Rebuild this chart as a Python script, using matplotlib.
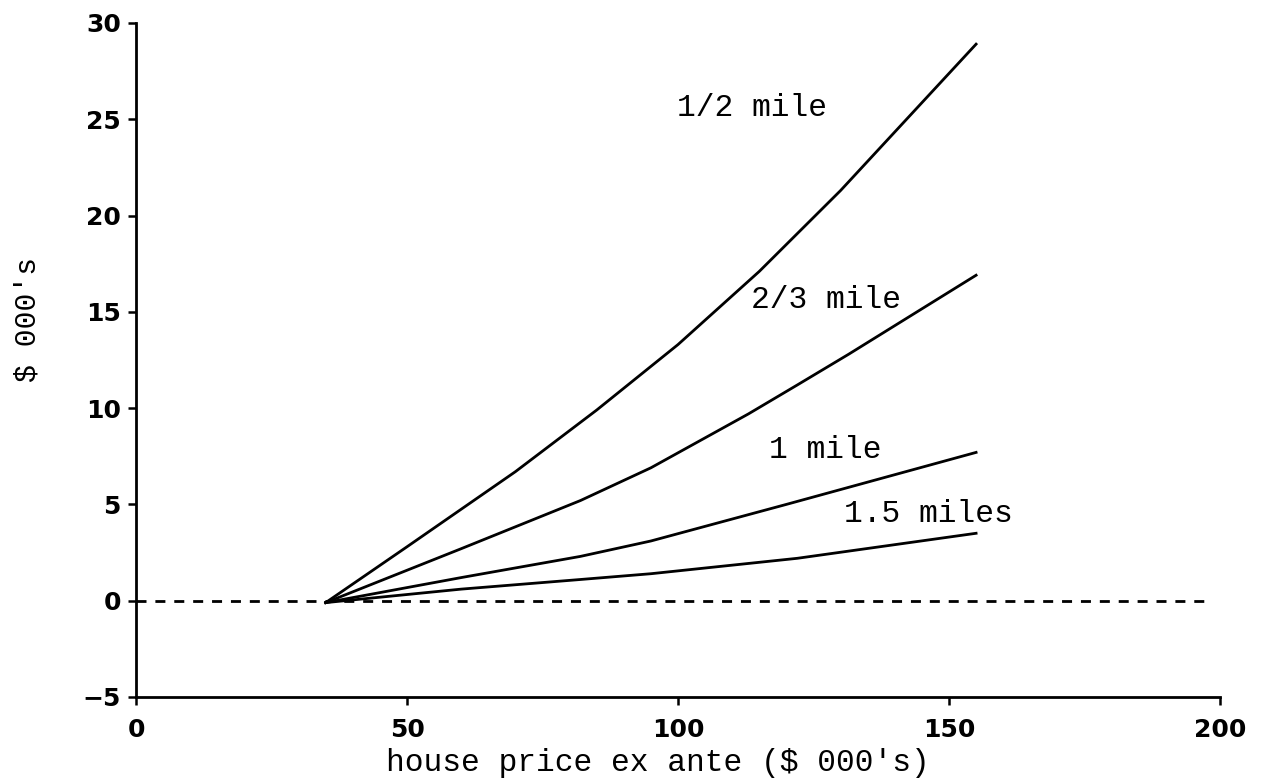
import numpy as np
import matplotlib
matplotlib.use("Agg")
import matplotlib.pyplot as plt

# values ($ 000's)
x_half = [35, 50, 70, 85, 100, 115, 130, 155]
y_half = [-0.1, 2.8, 6.7, 9.9, 13.3, 17.1, 21.3, 28.9]

x_twothird = [35, 60, 82, 95, 113, 122, 131.5, 155]
y_twothird = [-0.1, 2.7, 5.2, 6.9, 9.7, 11.2, 12.8, 16.9]

x_one = [35, 60, 82, 95, 120, 155]
y_one = [-0.1, 1.2, 2.3, 3.1, 5.0, 7.7]

x_onehalf = [35, 60, 82, 95, 122, 155]
y_onehalf = [-0.1, 0.6, 1.1, 1.4, 2.2, 3.5]

labels = ["1/2 mile", "2/3 mile", "1 mile", "1.5 miles"]
label_x = [99.8, 113.4, 116.8, 130.6]
label_y = [25.6, 15.6, 7.8, 4.5]

xticks = [0, 50, 100, 150, 200]
yticks = [-5, 0, 5, 10, 15, 20, 25, 30]

mono = "Liberation Mono"
sans = "DejaVu Sans"

fig = plt.figure(figsize=(12.62, 7.81), dpi=100)
ax = fig.add_axes([0.1078, 0.1076, 0.8589, 0.863])

# zero reference line
ax.plot([0, 198], [0, 0], color="black", lw=2, dashes=(3.6, 3.2))

for xs, ys in [(x_half, y_half), (x_twothird, y_twothird),
               (x_one, y_one), (x_onehalf, y_onehalf)]:
    ax.plot(xs, ys, color="black", lw=2)

for txt, tx, ty in zip(labels, label_x, label_y):
    ax.text(tx, ty, txt, family=mono, fontsize=22.5, va="center", ha="left")

ax.set_xlim(0, 200)
ax.set_ylim(-5, 30)
ax.set_xticks(xticks)
ax.set_yticks(yticks)
ax.set_xticklabels([str(v) for v in xticks], family=sans, fontsize=18, weight="bold")
ax.set_yticklabels(["\u22125" if v == -5 else str(v) for v in yticks],
                   family=sans, fontsize=18, weight="bold")
ax.tick_params(axis="x", direction="out", length=6, width=1.8, pad=9)
ax.tick_params(axis="y", direction="out", length=6, width=1.8, pad=5)

for side in ["top", "right"]:
    ax.spines[side].set_visible(False)
for side in ["left", "bottom"]:
    ax.spines[side].set_linewidth(2)

ax.set_xlabel("house price ex ante ($ 000's)", family=mono, fontsize=22.5, va="center")
ax.xaxis.set_label_coords(0.4815, -0.098)
ax.set_ylabel("$ 000's", family=mono, fontsize=21.5, va="center")
ax.yaxis.set_label_coords(-0.1, 0.56)

fig.savefig("out.png", dpi=100)
